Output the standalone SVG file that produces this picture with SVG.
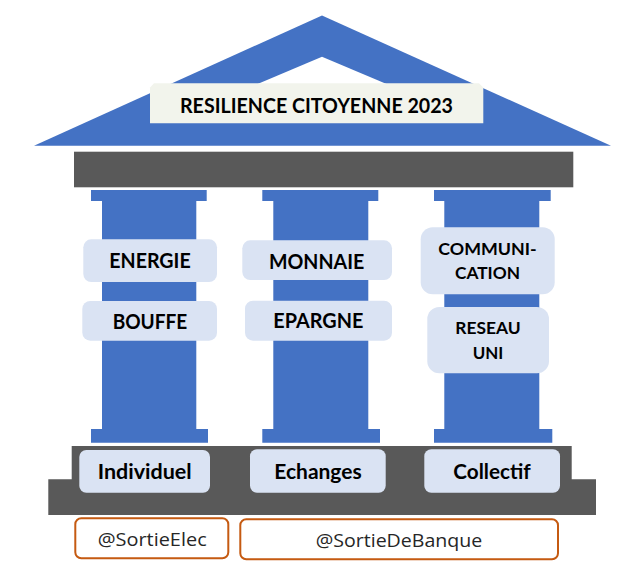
<svg xmlns="http://www.w3.org/2000/svg" width="639" height="579" viewBox="0 0 639 579">
<style>
.blue{fill:#4472C4}
.gray{fill:#595959}
.lbl{fill:#DAE3F3}
.b{font-family:Lato,"Liberation Sans",sans-serif;font-weight:bold;fill:#000}
.h{font-family:"Open Sans","Liberation Sans",sans-serif;font-weight:normal;fill:#262626}
.hb{fill:#fff;stroke:#C55A11;stroke-width:2}
</style>
<rect width="639" height="579" fill="#fff"/>
<g id="roof">
<polygon class="blue" points="322,15.5 611,145.7 34,145.7"/>
<polygon fill="#fff" points="322,56.7 479,123 165,123"/>
</g>
<g id="title">
<polygon fill="#F2F4EC" points="154,83.3 479,83.3 483.3,87.5 483.3,123.3 150,123.3 150,87.5"/>
<text class="b" x="180" y="113.3" font-size="20" textLength="273" lengthAdjust="spacingAndGlyphs">RESILIENCE CITOYENNE 2023</text>
</g>
<rect id="entablature" class="gray" x="74" y="151.7" width="499.3" height="35.6"/>
<g id="columns">
<path class="blue" d="M91,190H206.7V201H196.3V429H208V442.7H91V429H102V201H91Z"/>
<path class="blue" d="M262.3,190H378.3V201H368.3V429H380V442.7H262.3V429H273.3V201H262.3Z"/>
<path class="blue" d="M434,190H550.7V201H539.3V429H552.3V442.7H434V429H444.3V201H434Z"/>
</g>
<g id="pillar-labels">
<g id="energie"><rect class="lbl" x="83.3" y="239.3" width="133.7" height="42.7" rx="8"/>
<text class="b" x="109.3" y="267.7" font-size="21" textLength="81.4" lengthAdjust="spacingAndGlyphs">ENERGIE</text></g>
<g id="bouffe"><rect class="lbl" x="82.3" y="301" width="134.7" height="39.7" rx="8"/>
<text class="b" x="112.7" y="329.3" font-size="21" textLength="74.6" lengthAdjust="spacingAndGlyphs">BOUFFE</text></g>
<g id="monnaie"><rect class="lbl" x="242.3" y="240.3" width="149.7" height="39.7" rx="8"/>
<text class="b" x="269" y="269.3" font-size="21" textLength="95.3" lengthAdjust="spacingAndGlyphs">MONNAIE</text></g>
<g id="epargne"><rect class="lbl" x="245" y="300.7" width="147" height="40" rx="8"/>
<text class="b" x="273.3" y="328.3" font-size="21" textLength="90" lengthAdjust="spacingAndGlyphs">EPARGNE</text></g>
<g id="communication"><rect class="lbl" x="420.7" y="227.3" width="134" height="67" rx="12"/>
<text class="b" x="438.3" y="255" font-size="17.5" textLength="98.4" lengthAdjust="spacingAndGlyphs">COMMUNI-</text>
<text class="b" x="455" y="279.3" font-size="17.5" textLength="65" lengthAdjust="spacingAndGlyphs">CATION</text></g>
<g id="reseau"><rect class="lbl" x="427.3" y="307" width="121.7" height="66.3" rx="12"/>
<text class="b" x="455.3" y="334" font-size="17.5" textLength="65.4" lengthAdjust="spacingAndGlyphs">RESEAU</text>
<text class="b" x="472.7" y="359.3" font-size="17.5" textLength="30.6" lengthAdjust="spacingAndGlyphs">UNI</text></g>
</g>
<path id="base" class="gray" d="M71.7,446H571.7V479.3H596V515H48.3V479.3H71.7Z"/>
<g id="base-labels">
<g id="individuel"><rect class="lbl" x="79.3" y="450" width="130.7" height="42.7" rx="7"/>
<text class="b" x="97.7" y="479" font-size="21" textLength="94" lengthAdjust="spacingAndGlyphs">Individuel</text></g>
<g id="echanges"><rect class="lbl" x="250" y="449.3" width="135.7" height="43.4" rx="7"/>
<text class="b" x="274.3" y="479" font-size="21" textLength="87.4" lengthAdjust="spacingAndGlyphs">Echanges</text></g>
<g id="collectif"><rect class="lbl" x="424.3" y="449.3" width="135.7" height="43.4" rx="7"/>
<text class="b" x="453.3" y="479" font-size="21" textLength="77.4" lengthAdjust="spacingAndGlyphs">Collectif</text></g>
</g>
<g id="handles">
<g id="sortieelec"><rect class="hb" x="75.3" y="518.3" width="153" height="40" rx="6"/>
<text class="h" x="97.7" y="546" font-size="19" textLength="109" lengthAdjust="spacingAndGlyphs">@SortieElec</text></g>
<g id="sortiedebanque"><rect class="hb" x="240.3" y="519.3" width="317.7" height="40" rx="6"/>
<text class="h" x="315.7" y="547" font-size="19" textLength="166.6" lengthAdjust="spacingAndGlyphs">@SortieDeBanque</text></g>
</g>
</svg>
